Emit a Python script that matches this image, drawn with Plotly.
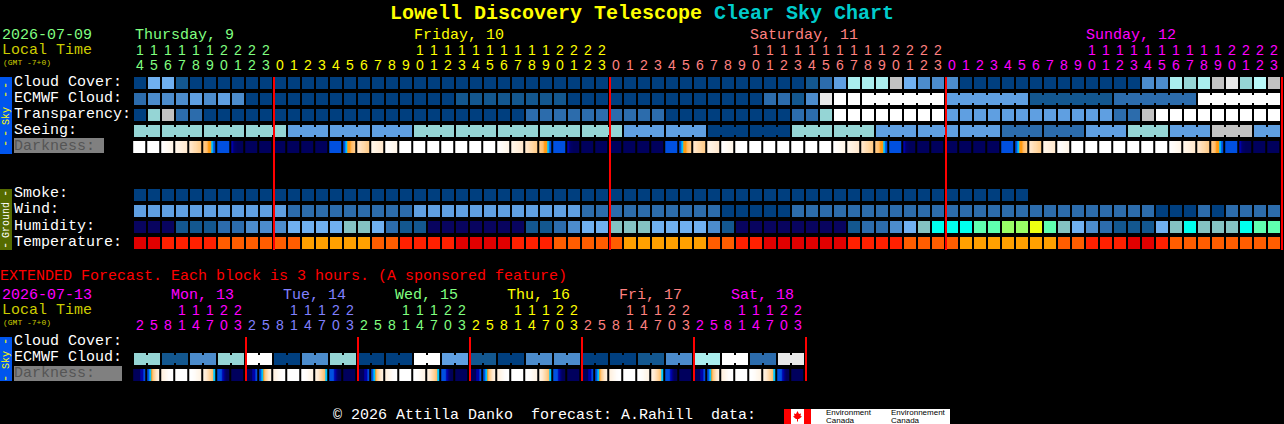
import plotly.graph_objects as go

W, H = 1284, 424
MONO = "Liberation Mono"
DIGIT = "Liberation Sans"

# ---------- data: one letter per hour block, grouped by day ----------
CLOUD = ["AFFBAAAAAA", "AAAAAAAAAAAAAAAAAAAAAAAA", "AAAAAAAAAAAAAABCEHHHIFDD", "DAAAAAAAAAAAAADDHGHIJGPI"]
ECMWF = ["CDDDEDEDAA", "AAAAAAAAAAAAABBBBBBBBAAA", "AAAAAAAAAAACCBDJKKKKKKKK", "EEEEEEBBBBBBCCCCCCKKKKKK"]
TRANSP = ["AGICCAAAAA", "AAAAAAAAAAAAAAAAAACCCCCC", "CCCCAAAAAAAAACCGKKKKKKKK", "EEEEEEEEEEEECCIKKKKKKKKK"]
SEEING_BLOCKS = "GGGGEEEGGGGGEEAAGGEEECCEGEIE"
SEEING_SIZES = [2] + [3] * 26 + [2]
ECMWF_SIZES = [1] * 52 + [6] * 5
SMOKE = ["AAAAAAAAAA", "AAAAAAAAAAAAAAAAAAAAAAAA", "AAAAAAAAAAAAAAAAAAAAAAAA", "AAAAAA.................."]
WIND = ["EEEEEEEEEE", "ECCCCCCCCCEEEEEEEEEEEECC", "CCCCCCCCAAAAACCCCCCCCCCC", "CCCCCCCCCCCCCCCAAACACCCC"]
HUMID = ["NNNBBBCCDD", "DFFFFTTFCBBNNNNNNNBBCDFF", "TTTFFFFDBNNNNNNNNBCCDFTY", "YYLLMMZLTFDCBBBFTYTTTYLL"]
TEMP = ["RRSSSSUUUU", "UUVVVVVUUSSSSRRRRSSSUUUU", "UVVVVVVUUSSRRRRRRSSSSUUU", "UVVVVVVVUUSSSRRSUUUUUUUU"]
DARK = ("W W c1 c2 c3 S B n1 N N "
        "N N N N B s c3 c2 c1 W W W W W W W c1 c2 c3 S B n1 N N "
        "N N N N B s c3 c2 c1 W W W W W W W c1 c2 c3 S B n1 N N "
        "N N N N B s c3 c2 c1 W W W W W W W c1 c2 c3 S B n1 N N").split()
EXT_BLOCKS = "GBDGKADGAAKEBADDAABDHKCJ"
EXT_DARK_DAY = ["e0", "e1", "e2", "W", "e4", "e5", "e6", "N"]
EXT_DAYS = 6

THU_UNITS = list("4567890123")
DAY_UNITS = list("012345678901234567890123")
DAY_TENS = list("          11111111112222")
THU_TENS = list("1111112222")
EXT_UNITS = list("25814703")
EXT_TENS = list("   11122")

MIDNIGHTS = [10, 34, 58, 82]
EXT_MIDNIGHTS = [8, 16, 24, 32, 40, 48]

COLORS = {"A": "#003F7F", "B": "#13578F", "C": "#2C6CAC", "D": "#4C8CCC", "E": "#5F9FE1", "F": "#70B0F0",
          "G": "#95D5D5", "H": "#AAEEEE", "P": "#B8FAFA", "I": "#C2C2C2", "J": "#E8E8E8", "K": "#FFFFFF",
          "N": "#08045F", "T": "#84C2C2", "Y": "#00FFEE", "L": "#5FFFAF", "M": "#99FF66", "Z": "#EEFF11",
          "R": "#E10000", "S": "#FF2000", "U": "#FF5D00", "V": "#FFA000"}

DARK_SCALE = [[0, "#FFFFFF"], [0.1, "#FFF6EA"], [0.25, "#FFE9CF"], [0.42, "#FFCF90"], [0.5, "#FFBD6C"],
              [0.55, "#FF9A10"], [0.58, "#FF9A10"], [0.6, "#00C8FF"], [0.7, "#0050E0"], [0.8, "#0000A8"],
              [0.9, "#000078"], [1, "#00005A"]]
DARK_PATTERNS = {
    "W": [0] * 12,
    "c1": [0.0, 0.01, 0.02, 0.03, 0.04, 0.05, 0.06, 0.07, 0.08, 0.09, 0.10, 0.11],
    "c2": [0.10, 0.11, 0.12, 0.14, 0.15, 0.17, 0.18, 0.20, 0.21, 0.23, 0.24, 0.26],
    "c3": [0.25, 0.27, 0.28, 0.30, 0.32, 0.34, 0.35, 0.37, 0.39, 0.41, 0.42, 0.44],
    "S": [0.44, 0.46, 0.48, 0.50, 0.52, 0.55, 0.57, 0.57, 0.6, 0.62, 0.7, 0.7],
    "s": [0.7, 0.7, 0.62, 0.6, 0.57, 0.57, 0.55, 0.52, 0.50, 0.48, 0.46, 0.44],
    "B": [0.7] * 12,
    "n1": [0.8, 0.8, 0.92, 0.95, 0.97, 0.98, 1, 1, 1, 1, 1, 1],
    "N": [0.99] * 12,
    "e0": [1, 1, 1, 1, 1, 1, 1, 0.8, 0.8, 0.8, 0.72, 0.7],
    "e1": [0.7, 0.7, 0.62, 0.6, 0.57, 0.48, 0.42, 0.36, 0.30, 0.25, 0.20, 0.16],
    "e2": [0.16, 0.14, 0.12, 0.10, 0.08, 0.06, 0.04, 0.02, 0.01, 0, 0, 0],
    "e4": [0, 0, 0, 0.01, 0.02, 0.03, 0.05, 0.07, 0.08, 0.10, 0.11, 0.13],
    "e5": [0.14, 0.18, 0.22, 0.26, 0.30, 0.34, 0.38, 0.42, 0.46, 0.50, 0.60, 0.60],
    "e6": [0.7, 0.7, 0.7, 0.7, 0.72, 0.8, 0.8, 0.9, 0.95, 1, 1, 1],
}

# ---------- scales: hour index -> pixel 140+14*i, row index -> pixel 83+16*r ----------
def rowc(py):
    return (py - 83) / 16

LETTERS = list(COLORS)
N = len(LETTERS)
STEP_SCALE = []
for k, name in enumerate(LETTERS):
    STEP_SCALE += [[k / N, COLORS[name]], [(k + 1) / N, COLORS[name]]]

def codes(row):
    return [LETTERS.index(c) if c != "." else None for c in "".join(row)]

def expand(blocks, sizes):
    return "".join(b * s for b, s in zip(blocks, sizes))

def bridges(hourly, sizes):
    out, pos = [None] * (len(hourly) - 1), 0
    for s in sizes:
        for j in range(pos, pos + s - 1):
            out[j] = hourly[j]
        pos += s
    return out

SEEING = expand(SEEING_BLOCKS, SEEING_SIZES)
ROWS = {0: CLOUD, 1: ECMWF, 2: TRANSP, 3: [SEEING], 7: SMOKE, 8: WIND, 9: HUMID, 10: TEMP}
empty = [None] * 82
grid = [codes(ROWS[r]) if r in ROWS else empty for r in range(11)]

fig = go.Figure()
hm = dict(showscale=False, hoverinfo="skip", colorscale=STEP_SCALE, zmin=-0.5, zmax=N - 0.5, zsmooth=False)

# hourly blocks
fig.add_trace(go.Heatmap(z=grid, x0=0, dx=1, y0=0, dy=1, xgap=2, ygap=4, **hm))
# bridges joining blocks of one forecast period
ecmwf_codes = codes(ECMWF)
seeing_codes = codes([SEEING])
br = [bridges(ecmwf_codes, ECMWF_SIZES), [None] * 81, bridges(seeing_codes, SEEING_SIZES)]
fig.add_trace(go.Heatmap(z=br, x0=0.5, dx=1, y0=1, dy=1, xgap=12, ygap=8, **hm))

# darkness row, one column per pixel
def dark_strip(names):
    out = []
    for name in names:
        out += DARK_PATTERNS[name] + [None, None]
    return out

DARK_X0 = -0.5 + 0.7 / 14
dk = dict(showscale=False, hoverinfo="skip", colorscale=DARK_SCALE, zmin=0, zmax=1, zsmooth=False)
fig.add_trace(go.Heatmap(z=[dark_strip(DARK)], x0=DARK_X0, dx=1 / 14, y0=4, dy=1, ygap=4, **dk))

# extended forecast
ext_sizes = [2] * len(EXT_BLOCKS)
ext_hourly = expand(EXT_BLOCKS, ext_sizes)
ext_codes = codes([ext_hourly])
fig.add_trace(go.Heatmap(z=[ext_codes], x0=0, dx=1, y0=rowc(359), dy=1, xgap=2, ygap=4, **hm))
fig.add_trace(go.Heatmap(z=[bridges(ext_codes, ext_sizes)], x0=0.5, dx=1, y0=rowc(359), dy=1, xgap=12, ygap=8, **hm))
fig.add_trace(go.Heatmap(z=[dark_strip(EXT_DARK_DAY * EXT_DAYS)], x0=DARK_X0, dx=1 / 14,
                         y0=rowc(375), dy=1, ygap=4, **dk))

# midnight lines
def vlines(hours, top, bottom):
    xs, ys = [], []
    for h in hours:
        xs += [h - 0.5 + 1 / 14] * 2 + [None]
        ys += [rowc(top), rowc(bottom), None]
    return go.Scatter(x=xs, y=ys, mode="lines", line=dict(color="#FF0000", width=2), hoverinfo="skip",
                      cliponaxis=False)

fig.add_trace(vlines(MIDNIGHTS, 77, 250))
fig.add_trace(vlines(EXT_MIDNIGHTS, 337, 381))

# hour digits
def digits(labels, start, py, color):
    xs = [start + i for i, t in enumerate(labels) if t.strip()]
    txt = [t for t in labels if t.strip()]
    fig.add_trace(go.Scatter(x=xs, y=[rowc(py)] * len(xs), text=txt, mode="text", hoverinfo="skip",
                             textposition="middle center", cliponaxis=False,
                             textfont=dict(family=DIGIT, size=14, color=color)))

GREEN, YEL, SALMON, MAG, BLUE = "#80FF80", "#FFFF00", "#FF8080", "#FF00FF", "#8080FF"
digits(THU_TENS, 0, 51, GREEN)
digits(THU_UNITS, 0, 66, GREEN)
for start, col in [(10, YEL), (34, SALMON), (58, MAG)]:
    digits(DAY_TENS, start, 51, col)
    digits(DAY_UNITS, start, 66, col)
EXT_COLORS = [MAG, BLUE, GREEN, YEL, SALMON, MAG]
for d, col in enumerate(EXT_COLORS):
    digits(EXT_TENS, d * 8, 311, col)
    digits(EXT_UNITS, d * 8, 326, col)

# ---------- text and decoration ----------
ann = []
def label(px, py, text, color="#FFFFFF", size=15, bold=False, family=MONO, angle=0, anchor="left"):
    t = text.replace(" ", "\u00a0")
    if bold:
        t = "<b>" + t + "</b>"
    ann.append(dict(x=px / W, y=1 - py / H, xref="paper", yref="paper", text=t, showarrow=False, xanchor=anchor,
                    yanchor="middle", align="left", textangle=angle, borderpad=0,
                    font=dict(family=family, size=size, color=color)))

label(389, 13, "Lowell Discovery Telescope", YEL, 20, True)
label(713, 13, "Clear Sky Chart", "#00CCCC", 20, True)
label(1, 36, "2026-07-09", GREEN)
label(1, 51, "Local Time", "#CCCC00")
label(2, 62, "(GMT -7+0)", "#CCCC00", 8)
for x, t, c in [(134, "Thursday, 9", GREEN), (413, "Friday, 10", YEL), (749, "Saturday, 11", SALMON), (1085, "Sunday, 12", MAG)]:
    label(x, 36, t, c)
for y, t in [(82, "Cloud Cover:"), (98, "ECMWF Cloud:"), (114, "Transparency:"), (130, "Seeing:"),
             (194, "Smoke:"), (210, "Wind:"), (226, "Humidity:"), (242, "Temperature:"),
             (341, "Cloud Cover:"), (357, "ECMWF Cloud:")]:
    label(13, y, t)
label(13, 146, "Darkness:", "#555555")
label(13, 373, "Darkness:", "#555555")
label(-1, 276, "EXTENDED Forecast. Each block is 3 hours. (A sponsored feature)", "#FF0000")
label(1, 295, "2026-07-13", MAG)
label(1, 310, "Local Time", "#CCCC00")
label(2, 322, "(GMT -7+0)", "#CCCC00", 8)
for x, t, c in zip([170, 282, 394, 506, 618, 730], ["Mon, 13", "Tue, 14", "Wed, 15", "Thu, 16", "Fri, 17", "Sat, 18"], EXT_COLORS):
    label(x, 295, t, c)
label(332, 415, "© 2026 Attilla Danko  forecast: A.Rahill  data:")

# side bars: rotated names with separate dashes
for y in [85, 94, 133, 143]:
    label(6, y, "-", YEL, 12, angle=-90, anchor="center")
label(6, 116, "Sky", YEL, 10, angle=-90, anchor="center")
for y in [193, 245]:
    label(6, y, "-", "#FFFFFF", 12, angle=-90, anchor="center")
label(6, 220, "Ground", "#FFFFFF", 10, angle=-90, anchor="center")
for y in [341, 378]:
    label(6, y, "-", YEL, 12, angle=-90, anchor="center")
label(6, 360, "Sky", YEL, 10, angle=-90, anchor="center")

for x, a, b in [(825, "Environment", "Canada"), (890, "Environnement", "Canada")]:
    label(x, 412, a, "#000000", 8, family=DIGIT)
    label(x, 420, b, "#000000", 8, family=DIGIT)

def rect(x0, y0, x1, y1, color):
    return dict(type="rect", xref="paper", yref="paper", x0=x0 / W, x1=x1 / W, y0=1 - y0 / H, y1=1 - y1 / H,
                fillcolor=color, line=dict(width=0), layer="below")

LEAF = "M797.5 411 L799 414 L801 413.5 L800.5 416 L802 416.5 L799 419 L798 419 L798 421.5 L797 421.5 L797 419 L796 419 L793 416.5 L794.5 416 L794 413.5 L796 414 Z"
def leaf_path():
    out, nums = [], LEAF.split()
    i = 0
    while i < len(nums):
        tok = nums[i]
        if tok == "Z":
            out.append("Z")
            i += 1
        else:
            x = float(tok[1:]) / W
            y = 1 - float(nums[i + 1]) / H
            out.append(f"{tok[0]} {x:.5f} {y:.5f}")
            i += 2
    return " ".join(out)

shapes = [rect(0, 77, 12, 154, "#0055EE"), rect(0, 189, 12, 250, "#556B00"), rect(0, 337, 12, 381, "#0055EE"),
          rect(14, 138, 104, 153, "#808080"), rect(14, 366, 122, 381, "#808080"),
          rect(784, 409, 950, 424, "#FFFFFF"), rect(784, 409, 791, 424, "#FF0000"), rect(804, 409, 811, 424, "#FF0000"),
          dict(type="path", xref="paper", yref="paper", path=leaf_path(), fillcolor="#FF0000", line=dict(width=0))]

fig.update_layout(
    width=W, height=H, margin=dict(l=0, r=0, t=0, b=0, pad=0), autosize=False,
    paper_bgcolor="#000000", plot_bgcolor="#000000", showlegend=False, annotations=ann, shapes=shapes,
    xaxis=dict(range=[-140 / 14, (W - 140) / 14], visible=False, fixedrange=True),
    yaxis=dict(range=[(H - 83) / 16, -83 / 16], visible=False, fixedrange=True),
)
fig.write_html("out.html", config={"displayModeBar": False},
               post_script="document.body.style.margin='0';document.body.style.background='#000';document.body.style.overflow='hidden';")
